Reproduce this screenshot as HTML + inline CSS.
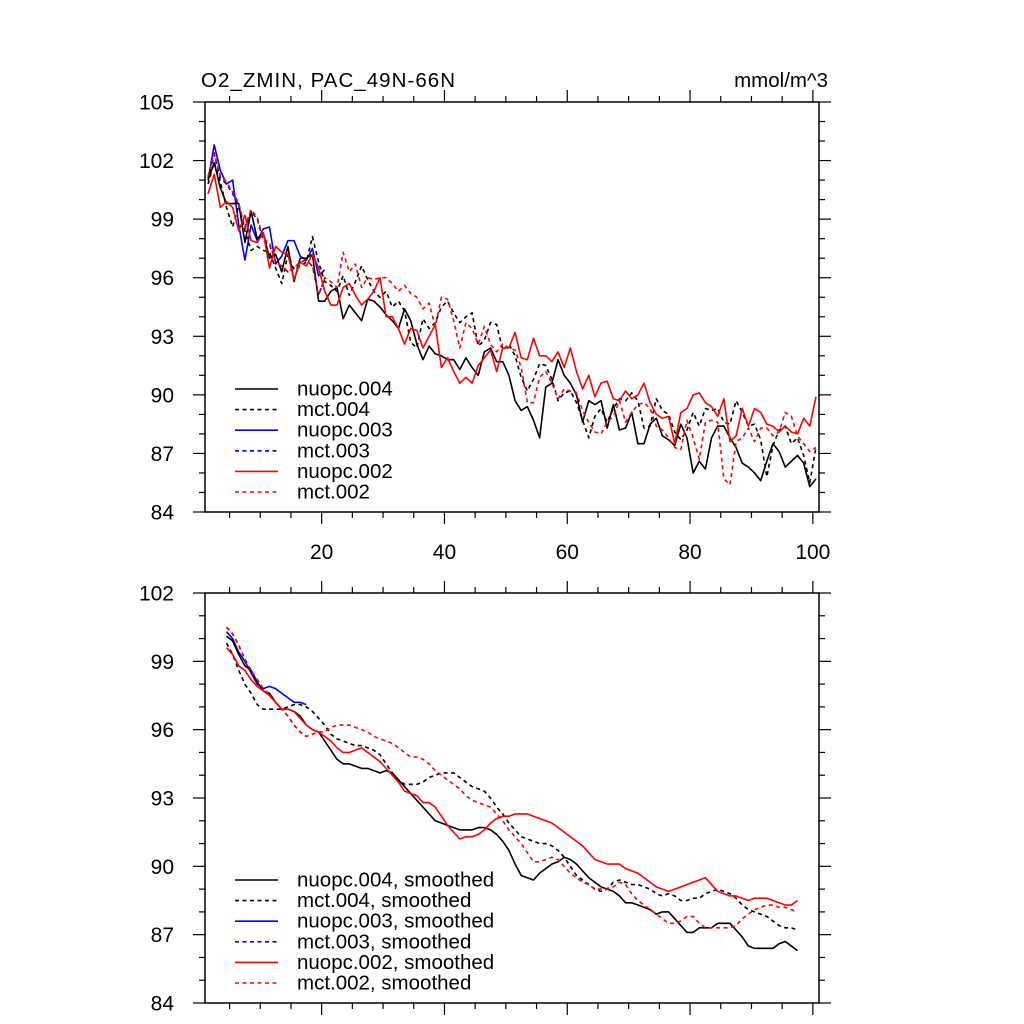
<!DOCTYPE html>
<html><head><meta charset="utf-8"><style>
html,body{margin:0;padding:0;background:#fff;}
svg{display:block;font-family:"Liberation Sans",Arial,sans-serif;}
</style></head><body>
<svg id="chart" width="1024" height="1024" viewBox="0 0 1024 1024" xmlns="http://www.w3.org/2000/svg">
<rect x="0" y="0" width="1024" height="1024" fill="#fff"/>
<text x="201" y="87" font-size="20.5" textLength="254">O2_ZMIN, PAC_49N-66N</text>
<text x="828" y="87" font-size="20.5" text-anchor="end">mmol/m^3</text>
<g id="top"></g>
<g id="bot"></g>
</svg>
<script>
// ---- data: top panel (annual values, years 1.5 .. 100.5) ----
const rawStart = 1.5;
const nuopc004 = [101.0,101.9,100.6,99.8,99.8,99.8,97.8,99.4,98.0,98.3,97.0,97.2,96.3,97.6,95.8,97.0,97.0,97.2,94.8,94.8,95.3,95.5,93.9,94.6,94.2,93.8,94.9,94.8,94.5,94.1,93.8,93.4,94.4,93.8,92.6,91.8,92.5,92.1,92.0,91.8,91.8,91.3,91.9,91.4,91.0,92.2,92.4,91.7,91.7,91.0,89.7,89.2,89.4,88.7,87.8,90.4,90.6,91.8,91.0,90.6,90.0,88.6,89.7,89.5,89.7,88.3,89.5,88.2,88.3,89.1,87.5,87.5,88.5,88.8,87.9,87.7,87.4,88.5,87.8,86.0,86.6,86.2,87.8,88.4,88.4,87.8,87.3,86.5,86.3,86.0,85.6,86.6,87.5,87.1,86.3,86.6,86.9,86.5,85.3,85.7];
const mct004 = [100.8,101.9,100.9,99.6,98.6,99.7,98.4,97.4,97.6,97.4,97.3,96.5,95.7,97.2,96.4,96.6,96.8,98.1,96.8,95.8,95.6,95.3,96.1,95.1,95.8,96.6,95.9,95.3,95.0,95.3,94.5,94.8,94.3,92.7,92.4,93.9,93.4,93.7,94.5,94.8,94.2,93.7,94.0,94.2,92.5,92.8,93.7,93.6,92.3,92.6,92.0,90.9,90.2,90.8,91.6,91.5,90.8,89.7,90.1,90.2,89.6,88.7,87.8,88.9,89.3,88.6,89.3,89.8,89.7,90.1,89.7,88.3,88.4,89.8,89.2,89.0,88.1,87.7,88.2,89.1,88.4,89.3,89.2,89.3,88.6,88.5,89.7,89.1,88.4,88.5,87.7,85.8,87.4,88.2,88.4,87.5,87.8,86.9,85.5,87.3];
const nuopc003 = [101.0,102.8,101.5,100.8,101.0,98.7,96.9,98.7,97.9,98.5,98.6,96.7,97.1,97.9,97.9,97.1,96.9,97.5,96.1,96.4];
const mct003 = [101.1,102.3,101.1,100.8,100.3,99.7,98.5,99.4,99.0,97.9,97.7,96.8,96.6,96.3,96.5,96.8,96.9,96.6,95.1,96.0];
const nuopc002 = [100.3,101.3,99.6,99.9,99.6,98.4,99.2,97.9,97.8,98.3,96.5,97.6,97.3,97.2,95.9,96.8,96.6,97.2,96.5,95.3,94.6,94.6,95.5,95.7,95.1,94.6,94.9,95.3,96.0,94.0,94.0,93.4,92.6,93.4,93.3,92.4,93.0,93.6,91.4,91.9,91.2,90.6,90.9,90.6,91.5,91.9,92.3,91.2,92.4,92.4,93.2,91.9,91.8,92.9,92.0,92.0,91.7,92.2,91.4,92.4,91.2,90.3,91.0,89.9,90.6,90.7,89.8,89.7,90.2,89.8,90.0,90.6,89.6,89.0,88.8,88.9,87.5,89.1,89.3,90.0,90.1,89.6,89.4,88.9,89.8,87.6,87.9,89.3,88.4,89.3,89.1,88.5,88.4,88.1,88.4,88.1,88.0,88.8,88.4,89.9];
const mct002 = [101.2,102.4,101.2,100.9,100.4,99.8,98.6,99.5,99.1,98.0,97.8,96.8,96.6,96.3,96.5,96.8,96.9,96.6,95.1,96.0,95.8,95.5,97.3,96.3,96.7,95.5,96.0,95.9,96.0,96.0,95.7,95.3,95.6,95.2,95.0,94.4,94.7,93.5,95.0,94.9,93.8,92.4,93.7,93.4,92.6,93.5,92.6,92.2,92.6,92.4,92.3,91.4,89.6,89.6,90.9,91.2,90.6,89.8,90.3,90.2,90.1,89.2,88.6,88.1,88.0,88.6,88.9,89.7,88.6,89.1,89.5,89.6,89.3,88.4,88.2,87.8,87.3,87.2,88.7,87.8,86.7,88.6,88.7,88.6,85.7,85.4,87.6,87.8,88.3,87.6,88.3,88.3,87.9,88.1,89.1,88.9,87.9,87.5,87.1,87.3];
// ---- data: bottom panel (smoothed, years 4.5 .. 97.5) ----
const smStart = 4.5;
const nuopc004s = [100.1,99.9,99.3,98.8,98.6,98.1,97.7,97.6,97.2,96.9, 96.9,96.8,96.6,96.2,96.0,95.9,95.5,95.1,94.7,94.5, 94.5,94.4,94.3,94.3,94.2,94.1,94.2,94.1,93.8,93.5, 93.2,92.9,92.6,92.3,92.0,91.9,91.8,91.7,91.6,91.6, 91.6,91.7,91.7,91.6,91.4,91.1,90.7,90.1,89.6,89.5, 89.4,89.7,89.9,90.1,90.2,90.4,90.3,90.1,89.8,89.5, 89.3,89.1,89.0,88.9,88.7,88.4,88.4,88.3,88.2,88.1, 87.9,88.0,88.0,87.7,87.4,87.1,87.1,87.3,87.3,87.3, 87.5,87.5,87.5,87.2,86.9,86.5,86.4,86.4,86.4,86.4, 86.6,86.7,86.5,86.3];
const mct004s = [99.8,99.3,98.6,98.0,97.6,97.1,96.9,96.9,96.9,96.9, 97.0,97.1,97.1,97.0,96.8,96.5,96.2,95.8,95.6,95.5, 95.4,95.3,95.3,95.2,95.1,94.9,94.5,94.1,93.8,93.6, 93.6,93.6,93.7,93.9,94.0,94.1,94.1,94.1,93.9,93.7, 93.5,93.4,93.3,93.0,92.6,92.3,91.9,91.6,91.3,91.2, 91.1,91.0,91.0,90.9,90.7,90.4,90.0,89.6,89.4,89.2, 89.0,88.9,89.0,89.3,89.4,89.3,89.2,89.2,89.1,89.0, 88.8,88.7,88.8,88.7,88.5,88.5,88.6,88.6,88.8,88.9, 89.0,88.9,88.8,88.6,88.3,88.1,88.0,87.9,87.8,87.6, 87.4,87.3,87.3,87.2];
const nuopc003s = [100.3,100.0,99.4,99.0,98.5,98.0,97.8,97.9,97.8,97.6,97.4,97.2,97.2,97.1];
const mct003s = [100.5,100.2,99.7,99.1,98.6,98.2,97.8,97.5,97.2,96.9,96.6,96.2,95.9,95.7];
const nuopc002s = [99.6,99.3,98.8,98.6,98.2,97.9,97.7,97.5,97.2,96.9, 96.9,96.8,96.5,96.2,96.0,95.9,95.7,95.5,95.2,95.0, 95.0,95.1,95.2,95.0,94.8,94.6,94.3,94.0,93.7,93.3, 93.2,93.1,92.8,92.8,92.6,92.2,91.8,91.5,91.2,91.3, 91.3,91.4,91.6,91.9,92.1,92.2,92.2,92.3,92.3,92.3, 92.2,92.1,92.0,91.9,91.7,91.5,91.3,91.1,90.9,90.6, 90.3,90.2,90.1,90.1,90.1,89.9,89.8,89.7,89.5,89.3, 89.1,89.0,88.9,89.0,89.1,89.2,89.3,89.4,89.5,89.2, 88.9,88.8,88.7,88.7,88.6,88.5,88.6,88.6,88.6,88.5, 88.4,88.3,88.3,88.5];
const mct002s = [100.5,100.2,99.7,99.1,98.6,98.2,97.8,97.5,97.2,96.9, 96.6,96.2,95.9,95.7,95.8,95.9,95.9,96.1,96.2,96.2, 96.2,96.1,96.0,95.9,95.7,95.6,95.5,95.4,95.2,95.0, 94.8,94.8,94.7,94.5,94.2,94.0,93.8,93.6,93.4,93.1, 92.9,92.8,92.7,92.6,92.3,92.0,91.6,91.3,91.0,90.6, 90.2,90.2,90.3,90.4,90.3,90.0,89.7,89.5,89.3,89.2, 89.0,89.0,89.0,89.1,89.3,89.2,88.8,88.5,88.3,88.1, 87.9,87.7,87.5,87.5,87.6,87.8,87.8,87.5,87.3,87.3, 87.3,87.3,87.3,87.4,87.7,87.9,88.1,88.2,88.3,88.3, 88.2,88.2,88.1,88.0];
// ---- ticks ----
const xMajorTicks = [20,40,60,80,100];
const xTickLabels = ["20","40","60","80","100"];
const topYTicks = [84,87,90,93,96,99,102,105];
const botYTicks = [84,87,90,93,96,99,102];

const NS = "http://www.w3.org/2000/svg";
function mk(tag, attrs, parent){ const e=document.createElementNS(NS,tag); for(const k in attrs) e.setAttribute(k,attrs[k]); parent.appendChild(e); return e; }

const X0=205, X1=819, XMIN=1, XMAX=101;
const xs = v => X0 + (v-XMIN)/(XMAX-XMIN)*(X1-X0);

function panel(g, top, bottom, ymin, ymax, yTicks, showXLabels, series, legend, legendY, legendName){
  const ys = v => bottom - (v-ymin)/(ymax-ymin)*(bottom-top);
  series.forEach(s=>{
    const pts = s.data.map((v,i)=> xs(s.start+i).toFixed(2)+","+ys(v).toFixed(2)).join(" ");
    const pl = mk("polyline",{points:pts,fill:"none",stroke:s.color,"stroke-width":1.6,"stroke-dasharray":s.dash?"4,3.5":"none","stroke-linejoin":"round"},g);
    
    
  });
  const fr = mk("rect",{x:X0,y:top,width:X1-X0,height:bottom-top,fill:"none",stroke:"#000","stroke-width":1.5},g);
  
  
  for(let v=ymin; v<=ymax; v++){
    const major = yTicks.includes(v);
    const L = major?12:6;
    const y = ys(v);
    const tl = mk("line",{x1:X0-L,y1:y,x2:X0,y2:y,stroke:"#000","stroke-width":1.2},g);
    
    
    const tr = mk("line",{x1:X1,y1:y,x2:X1+L,y2:y,stroke:"#000","stroke-width":1.2},g);
    
    
    if(major){
      const t = mk("text",{x:174,y:y+7.5,"font-size":21,"text-anchor":"end"},g);
      t.textContent = String(v);
      
      
    }
  }
  for(let v=5; v<=100; v+=5){
    const major = xMajorTicks.includes(v);
    const L = major?12:6;
    const x = xs(v);
    const tb = mk("line",{x1:x,y1:bottom,x2:x,y2:bottom+L,stroke:"#000","stroke-width":1.2},g);
    
    
    const tt = mk("line",{x1:x,y1:top-L,x2:x,y2:top,stroke:"#000","stroke-width":1.2},g);
    
    
  }
  if(showXLabels){
    xMajorTicks.forEach((v,i)=>{
      const t = mk("text",{x:xs(v),y:bottom+47,"font-size":21,"text-anchor":"middle"},g);
      t.textContent = xTickLabels[i];
      
      
    });
  }
  const lg = mk("g",{},g);
  
  
  series.slice().sort((a,b)=>a.order-b.order).forEach((s,i)=>{
    const y = legendY + i*20.6;
    const ln = mk("line",{x1:235,y1:y,x2:278,y2:y,stroke:s.color,"stroke-width":1.6,"stroke-dasharray":s.dash?"4,3.5":"none"},lg);
    
    
    const t = mk("text",{x:297,y:y+6.5,"font-size":20.5},lg);
    t.textContent = s.label + legend;
    
    
  });
}

const topSeries = [
  {name:"mct003",label:"mct.003",data:mct003,start:rawStart,color:"#0000ff",dash:true,order:3},
  {name:"nuopc003",label:"nuopc.003",data:nuopc003,start:rawStart,color:"#0000ff",dash:false,order:2},
  {name:"mct004",label:"mct.004",data:mct004,start:rawStart,color:"#000",dash:true,order:1},
  {name:"nuopc004",label:"nuopc.004",data:nuopc004,start:rawStart,color:"#000",dash:false,order:0},
  {name:"mct002",label:"mct.002",data:mct002,start:rawStart,color:"#ff0000",dash:true,order:5},
  {name:"nuopc002",label:"nuopc.002",data:nuopc002,start:rawStart,color:"#ff0000",dash:false,order:4}
];
const botSeries = [
  {name:"mct003-smoothed",label:"mct.003",data:mct003s,start:smStart,color:"#0000ff",dash:true,order:3},
  {name:"nuopc003-smoothed",label:"nuopc.003",data:nuopc003s,start:smStart,color:"#0000ff",dash:false,order:2},
  {name:"mct004-smoothed",label:"mct.004",data:mct004s,start:smStart,color:"#000",dash:true,order:1},
  {name:"nuopc004-smoothed",label:"nuopc.004",data:nuopc004s,start:smStart,color:"#000",dash:false,order:0},
  {name:"mct002-smoothed",label:"mct.002",data:mct002s,start:smStart,color:"#ff0000",dash:true,order:5},
  {name:"nuopc002-smoothed",label:"nuopc.002",data:nuopc002s,start:smStart,color:"#ff0000",dash:false,order:4}
];
panel(document.getElementById("top"),102,512,84,105,topYTicks,true,topSeries,"",389,"top-legend");
panel(document.getElementById("bot"),593,1003,84,102,botYTicks,false,botSeries,", smoothed",880,"bottom-legend");
</script>
</body></html>
